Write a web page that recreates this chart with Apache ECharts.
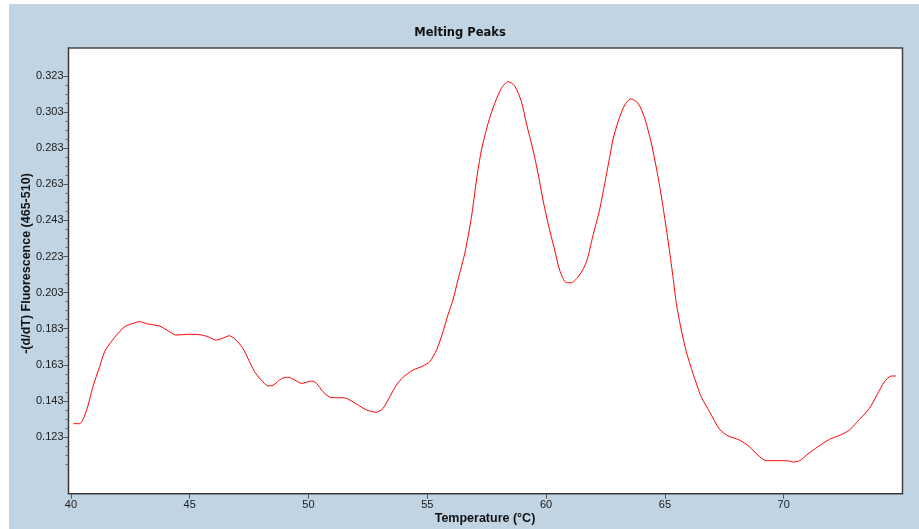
<!DOCTYPE html>
<html>
<head>
<meta charset="utf-8">
<script src="https://cdn.jsdelivr.net/npm/echarts@6/dist/echarts.min.js"></script>
<style>
  html, body { margin: 0; padding: 0; background: #ffffff; }
  #chart { position: absolute; left: 9px; top: 4px; width: 910px; height: 525px; background: #c1d4e4; }
</style>
</head>
<body>
<div id="chart"></div>
<script>
// Melting peak curve: temperature (°C) and -(d/dT) fluorescence (465-510)
const temperatures = [
  40.10, 40.37, 40.64, 40.93, 41.21, 41.42, 41.70, 41.98, 42.26, 42.54,
  42.89, 43.24, 43.73, 44.08, 44.43, 44.99, 45.41, 45.76, 46.11, 46.39,
  46.67, 46.95, 47.24, 47.45, 47.73, 48.01, 48.30, 48.51, 48.86, 49.14,
  49.42, 49.71, 50.13, 50.34, 50.61, 50.97, 51.25, 51.60, 52.02, 52.44,
  52.86, 53.14, 53.42, 53.70, 53.98, 54.40, 54.82, 55.10, 55.39, 55.66,
  55.87, 56.08, 56.29, 56.58, 56.86, 57.07, 57.28, 57.56, 57.84, 58.12,
  58.40, 58.68, 58.96, 59.17, 59.45, 59.66, 59.87, 60.08, 60.36, 60.57,
  60.85, 61.06, 61.41, 61.70, 61.97, 62.25, 62.47, 62.68, 62.81, 63.03,
  63.31, 63.56, 63.87, 64.15, 64.43, 64.71, 64.92, 65.13, 65.34, 65.48,
  65.69, 65.90, 66.18, 66.53, 66.88, 67.30, 67.65, 68.14, 68.56, 68.91,
  69.27, 69.83, 70.25, 70.39, 70.67, 71.02, 71.44, 71.93, 72.35, 72.77,
  73.19, 73.61, 73.96, 74.24, 74.52, 74.73
];
const fluorescence = [
  0.1304, 0.1304, 0.1370, 0.1509, 0.1620, 0.1703, 0.1758, 0.1804, 0.1841, 0.1856,
  0.1869, 0.1856, 0.1845, 0.1819, 0.1795, 0.1799, 0.1797, 0.1786, 0.1767, 0.1777,
  0.1791, 0.1767, 0.1721, 0.1666, 0.1592, 0.1546, 0.1513, 0.1517, 0.1553, 0.1561,
  0.1546, 0.1527, 0.1540, 0.1527, 0.1481, 0.1448, 0.1448, 0.1444, 0.1413, 0.1380,
  0.1367, 0.1389, 0.1453, 0.1518, 0.1561, 0.1601, 0.1623, 0.1647, 0.1712, 0.1813,
  0.1906, 0.1989, 0.2100, 0.2248, 0.2450, 0.2654, 0.2820, 0.2968, 0.3079, 0.3162,
  0.3199, 0.3175, 0.3088, 0.2968, 0.2820, 0.2691, 0.2543, 0.2414, 0.2266, 0.2155,
  0.2085, 0.2085, 0.2128, 0.2201, 0.2345, 0.2488, 0.2636, 0.2783, 0.2875, 0.2977,
  0.3069, 0.3103, 0.3079, 0.2996, 0.2857, 0.2672, 0.2506, 0.2321, 0.2118, 0.1971,
  0.1823, 0.1703, 0.1583, 0.1453, 0.1370, 0.1273, 0.1237, 0.1213, 0.1176, 0.1130,
  0.1099, 0.1099, 0.1097, 0.1091, 0.1099, 0.1136, 0.1176, 0.1217, 0.1239, 0.1269,
  0.1328, 0.1389, 0.1472, 0.1536, 0.1568, 0.1568
];

// Axis ticks
const xTicks = [40, 45, 50, 55, 60, 65, 70];
const yTicks = [0.123, 0.143, 0.163, 0.183, 0.203, 0.223, 0.243, 0.263, 0.283, 0.303, 0.323];
const yMinorTicks = [
  0.108, 0.113, 0.118, 0.128, 0.133, 0.138, 0.148, 0.153, 0.158,
  0.168, 0.173, 0.178, 0.188, 0.193, 0.198, 0.208, 0.213, 0.218,
  0.228, 0.233, 0.238, 0.248, 0.253, 0.258, 0.268, 0.273, 0.278,
  0.288, 0.293, 0.298, 0.308, 0.313, 0.318
];

const titleText = 'Melting Peaks';
const xName = 'Temperature (°C)';
const yName = '-(d/dT) Fluorescence (465-510)';

const X_MIN = 39.9, X_MAX = 75;
const Y_MIN = 0.0916, Y_MAX = 0.3385;

const chart = echarts.init(document.getElementById('chart'), null, { renderer: 'canvas' });

const labelFont = { fontFamily: 'Liberation Sans, Arial, sans-serif', fontSize: 11, color: '#1a1a1a' };
const nameFont = 'bold 12.5px "Liberation Sans", Arial, sans-serif';

chart.setOption({
  backgroundColor: 'transparent',
  animation: false,
  grid: {
    left: 59.5, top: 44, right: 16.5, bottom: 35.3,
    show: true, backgroundColor: '#ffffff', borderColor: '#444444', borderWidth: 1.5
  },
  xAxis: {
    type: 'value', min: X_MIN, max: X_MAX,
    axisLine: { show: true, onZero: false, lineStyle: { color: '#333333', width: 1 } },
    axisTick: { show: true, inside: false, length: 5, customValues: xTicks, lineStyle: { color: '#555555' } },
    axisLabel: { customValues: xTicks, margin: 6, ...labelFont, formatter: v => String(v) },
    splitLine: { show: false }
  },
  yAxis: [
    {
      type: 'value', min: Y_MIN, max: Y_MAX, position: 'left',
      axisLine: { show: true, onZero: false, lineStyle: { color: '#333333', width: 1 } },
      axisTick: { show: true, inside: false, length: 5, customValues: yTicks, lineStyle: { color: '#555555' } },
      axisLabel: { customValues: yTicks, margin: 5, ...labelFont, formatter: v => v.toFixed(3) },
      splitLine: { show: false }
    },
    {
      type: 'value', min: Y_MIN, max: Y_MAX, position: 'left',
      axisLine: { show: false },
      axisTick: { show: true, inside: false, length: 3, customValues: yMinorTicks, lineStyle: { color: '#666666' } },
      axisLabel: { show: false },
      splitLine: { show: false }
    }
  ],
  graphic: [
    {
      type: 'text', x: 451, y: 29,
      style: { text: titleText, font: 'bold 11.5px "DejaVu Sans", sans-serif', fill: '#111111', textAlign: 'center', textVerticalAlign: 'middle' }
    },
    {
      type: 'text', x: 476, y: 515,
      style: { text: xName, font: nameFont, fill: '#111111', textAlign: 'center', textVerticalAlign: 'middle' }
    },
    {
      type: 'text', x: 18, y: 259.5, rotation: Math.PI / 2,
      style: { text: yName, font: nameFont, fill: '#111111', textAlign: 'center', textVerticalAlign: 'middle' }
    }
  ],
  series: [
    {
      type: 'line',
      xAxisIndex: 0, yAxisIndex: 0,
      data: temperatures.map((t, i) => [t, fluorescence[i]]),
      showSymbol: false,
      smooth: 0.25,
      lineStyle: { color: '#ff0000', width: 1 },
      itemStyle: { color: '#ff0000' },
      emphasis: { disabled: true },
      silent: true
    }
  ]
});
</script>
</body>
</html>
